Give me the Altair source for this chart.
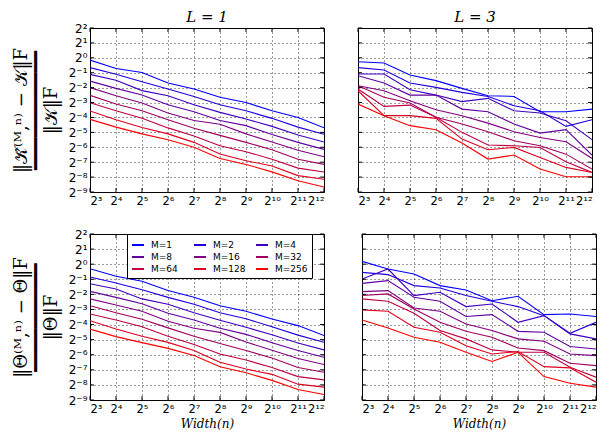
import altair as alt
import pandas as pd

# ---------------- data (log2 of relative error) ----------------
widths = [8, 16, 32, 64, 128, 256, 512, 1024, 2048, 4096]
m_labels = ["M=1", "M=2", "M=4", "M=8", "M=16", "M=32", "M=64", "M=128", "M=256"]
line_colors = ["#0000ff", "#2000df", "#4000bf", "#60009f", "#800080",
               "#9f0060", "#bf0040", "#df0020", "#ff0000"]
legend_alpha = [1.0, 0.75, 0.5, 1.0, 0.75, 0.5, 1.0, 0.75, 0.5]

x_tick_labels = ["2³", "2⁴", "2⁵", "2⁶", "2⁷", "2⁸", "2⁹", "2¹⁰", "2¹¹", "2¹²"]
y_tick_labels = ["2⁻⁹", "2⁻⁸", "2⁻⁷", "2⁻⁶", "2⁻⁵", "2⁻⁴", "2⁻³", "2⁻²", "2⁻¹", "2⁰", "2¹", "2²"]

# kernel error, L = 1
kernel_L1 = [
    [-0.15, -0.72, -0.98, -1.69, -2.09, -2.65, -3.00, -3.55, -4.00, -4.69],
    [-0.66, -1.10, -1.60, -2.09, -2.59, -3.15, -3.55, -4.06, -4.65, -5.13],
    [-1.11, -1.50, -2.20, -2.54, -3.15, -3.66, -4.10, -4.60, -5.18, -5.65],
    [-1.56, -2.05, -2.50, -3.15, -3.62, -4.20, -4.55, -5.15, -5.67, -6.14],
    [-2.00, -2.55, -3.03, -3.70, -4.20, -4.45, -5.10, -5.65, -6.20, -6.64],
    [-2.52, -3.10, -3.55, -4.15, -4.73, -5.20, -5.67, -6.17, -6.80, -7.15],
    [-3.01, -3.55, -4.05, -4.70, -5.25, -5.90, -6.30, -6.80, -7.40, -7.66],
    [-3.57, -4.15, -4.67, -5.10, -5.67, -6.45, -6.90, -7.25, -7.90, -8.15],
    [-4.13, -4.65, -5.10, -5.50, -6.00, -6.75, -7.15, -7.65, -8.25, -8.67],
]
# kernel error, L = 3
kernel_L3 = [
    [-0.26, -0.35, -1.15, -1.53, -2.05, -2.54, -2.59, -3.62, -3.62, -3.44],
    [-0.66, -0.82, -1.69, -1.98, -2.32, -2.59, -3.21, -3.55, -4.60, -4.15],
    [-1.09, -1.09, -2.14, -2.50, -2.94, -2.72, -3.55, -3.70, -4.22, -5.49],
    [-1.20, -1.69, -2.50, -2.50, -3.44, -3.62, -4.44, -5.05, -4.82, -6.52],
    [-1.87, -2.21, -2.88, -3.48, -3.88, -4.38, -4.96, -5.34, -5.63, -6.75],
    [-1.87, -2.65, -3.03, -3.99, -4.44, -4.96, -5.56, -5.90, -6.46, -7.46],
    [-2.09, -3.26, -3.17, -3.99, -5.00, -5.85, -5.90, -6.01, -6.97, -7.69],
    [-2.21, -3.88, -3.88, -4.06, -5.45, -6.17, -6.01, -6.68, -7.35, -7.69],
    [-3.10, -3.88, -4.55, -4.82, -5.72, -6.79, -6.52, -7.46, -7.98, -7.98],
]
# parameter error, L = 1
theta_L1 = [
    [-0.30, -0.80, -1.13, -1.75, -2.19, -2.75, -3.12, -3.63, -4.07, -4.73],
    [-0.85, -1.25, -1.70, -2.20, -2.65, -3.22, -3.62, -4.15, -4.70, -5.17],
    [-1.30, -1.65, -2.30, -2.65, -3.22, -3.72, -4.18, -4.68, -5.22, -5.68],
    [-1.80, -2.20, -2.62, -3.25, -3.70, -4.25, -4.65, -5.20, -5.72, -6.17],
    [-2.30, -2.70, -3.12, -3.78, -4.25, -4.52, -5.15, -5.70, -6.25, -6.65],
    [-2.75, -3.22, -3.65, -4.22, -4.78, -5.25, -5.72, -6.22, -6.85, -7.16],
    [-3.30, -3.70, -4.15, -4.78, -5.32, -5.95, -6.35, -6.85, -7.45, -7.67],
    [-3.75, -4.30, -4.78, -5.18, -5.72, -6.50, -6.95, -7.30, -7.95, -8.15],
    [-4.30, -4.80, -5.20, -5.58, -6.05, -6.80, -7.20, -7.70, -8.30, -8.64],
]
# parameter error, L = 3
theta_L3 = [
    [0.19, -0.32, -0.65, -1.42, -1.71, -2.42, -2.13, -3.34, -3.30, -3.47],
    [-0.54, -0.69, -1.42, -1.58, -2.08, -2.46, -2.81, -3.41, -4.58, -3.85],
    [-0.98, -0.32, -2.08, -1.86, -2.81, -2.64, -3.85, -3.41, -4.62, -4.95],
    [-1.27, -1.09, -2.19, -2.46, -3.47, -3.34, -4.45, -4.51, -5.46, -5.62],
    [-1.82, -1.75, -2.90, -3.12, -3.96, -4.40, -4.95, -5.11, -5.95, -6.06],
    [-2.08, -1.97, -2.97, -3.85, -4.45, -4.84, -5.55, -5.73, -6.57, -6.72],
    [-2.30, -2.46, -3.25, -4.40, -4.95, -5.68, -5.84, -5.84, -6.83, -7.49],
    [-3.03, -3.12, -4.18, -4.51, -5.40, -5.95, -5.79, -6.79, -6.87, -7.82],
    [-3.70, -4.23, -4.84, -5.17, -5.84, -6.45, -5.84, -7.45, -7.89, -8.15],
]

y_title_kernel = ["‖𝒦̂⁽ᴹ,ⁿ⁾ − 𝒦‖F", "━━━━━━━━━━━", "‖𝒦‖F"]
y_title_theta = ["‖Θ⁽ᴹ,ⁿ⁾ − Θ‖F", "━━━━━━━━━━", "‖Θ‖F"]

# ---------------- helpers ----------------
legend_idx = [0, 3, 6, 1, 4, 7, 2, 5, 8]          # column-major legend order
legend_order = [m_labels[i] for i in legend_idx]
legend_colors = [line_colors[i] for i in legend_idx]
legend_alphas = [legend_alpha[i] for i in legend_idx]

XLAB = "[" + ",".join("'" + s + "'" for s in x_tick_labels) + "][round(log(datum.value)/LN2)-3]"
YLAB = "[" + ",".join("'" + s + "'" for s in y_tick_labels) + "][round(log(datum.value)/LN2)+9]"
y_values = [2.0 ** k for k in range(-9, 3)]

PW = 234  # panel width


def make_df(rows):
    recs = []
    for m, row in zip(m_labels, rows):
        for w, e in zip(widths, row):
            recs.append({"width": w, "M": m, "err": 2.0 ** e})
    return pd.DataFrame(recs)


def panel(rows, left, bottom, h, ytitle=None, title=None, title_offset=0, legend=False):
    df = make_df(rows)
    xax = dict(values=widths, labelExpr=XLAB, grid=True, ticks=False, domain=False,
               labelPadding=3, labelOverlap=False, labelFontSize=11.5)
    xax["title"] = "Width(n)" if bottom else None
    yax = dict(values=y_values, labelExpr=YLAB, grid=True, ticks=False, domain=False,
               labels=left, labelPadding=3, labelOverlap=False)
    yax["title"] = ytitle if left else None
    x = alt.X("width:Q", scale=alt.Scale(type="log", base=2, domain=[8, 4096], nice=False),
              axis=alt.Axis(**xax))
    y = alt.Y("err:Q", scale=alt.Scale(type="log", base=2, domain=[2.0 ** -9, 4.0], nice=False),
              axis=alt.Axis(**yax))
    lines = alt.Chart(df).mark_line(strokeWidth=1.1, clip=True).encode(
        x=x, y=y,
        stroke=alt.Stroke("M:N", scale=alt.Scale(domain=m_labels, range=line_colors), legend=None),
        order="width:Q",
    )
    # inward tick marks on all four sides
    xt = pd.DataFrame({"width": widths})
    yt = pd.DataFrame({"err": y_values})
    tk = dict(color="black", strokeWidth=1)
    t_top = alt.Chart(xt).mark_rule(**tk).encode(x="width:Q", y=alt.value(0), y2=alt.value(4))
    t_bot = alt.Chart(xt).mark_rule(**tk).encode(x="width:Q", y=alt.value(h), y2=alt.value(h - 4))
    t_lft = alt.Chart(yt).mark_rule(**tk).encode(y="err:Q", x=alt.value(0), x2=alt.value(4))
    t_rgt = alt.Chart(yt).mark_rule(**tk).encode(y="err:Q", x=alt.value(PW), x2=alt.value(PW - 4))
    layers = [lines, t_top, t_bot, t_lft, t_rgt]
    if legend:
        leg = alt.Legend(title=None, orient="none", legendX=37, legendY=0, columns=3,
                         gridAlign="all", columnPadding=6, rowPadding=0,
                         symbolType="stroke", symbolSize=144, symbolStrokeWidth=2,
                         labelFont="DejaVu Sans", labelFontSize=9, labelOffset=6,
                         labelColor="black", padding=4, strokeColor="black",
                         fillColor="white", cornerRadius=0)
        pts = alt.Chart(df).mark_point(size=0, filled=False).encode(
            x="width:Q", y="err:Q",
            color=alt.Color("M:N", scale=alt.Scale(domain=legend_order, range=legend_colors), legend=leg),
            opacity=alt.Opacity("M:N", scale=alt.Scale(domain=legend_order, range=legend_alphas), legend=leg),
        )
        layers.append(pts)
    ch = alt.layer(*layers).properties(width=PW, height=h)
    if title:
        ch = ch.properties(title=alt.TitleParams(title, font="DejaVu Serif", fontStyle="italic",
                                                 fontSize=15, fontWeight="normal", offset=title_offset,
                                                 frame="group", anchor="middle", color="black"))
    return ch


tl = panel(kernel_L1, True, False, 164, ytitle=y_title_kernel, title="L = 1", title_offset=-3)
tr = panel(kernel_L3, False, False, 164, title="L = 3", title_offset=3)
bl = panel(theta_L1, True, True, 166, ytitle=y_title_theta, legend=True)
br = panel(theta_L3, False, True, 166)

res = dict(color="independent", opacity="independent", stroke="independent")
row1 = alt.hconcat(tl, tr, spacing=32).resolve_scale(**res)
row2 = alt.hconcat(bl, br, spacing=32).resolve_scale(**res)

chart = alt.vconcat(row1, row2, spacing=20).resolve_scale(**res).properties(
    padding={"left": 3, "top": 1, "right": 2, "bottom": 0},
    background="white",
).configure_view(
    stroke="black", strokeWidth=1
).configure_axis(
    gridColor="black", gridDash=[1, 3], gridWidth=0.8, gridOpacity=1,
    labelFont="DejaVu Sans", labelFontSize=12, labelColor="black",
    titleFont="DejaVu Serif", titleFontWeight="normal", titleColor="black",
).configure_axisX(
    titleFontStyle="italic", titleFontSize=12, titlePadding=4,
).configure_axisY(
    titleFontSize=18, titleLineHeight=15, titlePadding=8,
)

chart.save("out.html", embed_options={"renderer": "svg", "actions": False})
